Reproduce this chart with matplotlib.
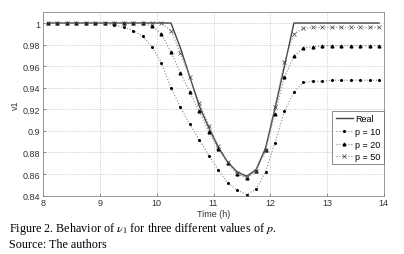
import numpy as np
import matplotlib
matplotlib.use("Agg")
import matplotlib.pyplot as plt
from matplotlib.ticker import FormatStrFormatter

# sample times: every 10 min, 8:05 -> 13:55
TIME_H = np.arange(8 + 5 / 60, 14, 1 / 6)

REAL = [1.0] * 14 + [0.977, 0.950, 0.923, 0.903, 0.885, 0.871, 0.862, 0.858,
                     0.864, 0.884, 0.921, 0.960] + [1.0] * 10
P10 = [1.0] * 7 + [0.998, 0.996, 0.993, 0.988, 0.978, 0.963, 0.940, 0.922,
                   0.906, 0.892, 0.877, 0.864, 0.852, 0.845, 0.841, 0.846,
                   0.862, 0.889, 0.918, 0.936, 0.945, 0.946, 0.946, 0.947,
                   0.947, 0.947, 0.947, 0.947, 0.947]
P20 = [1.0] * 11 + [0.997, 0.990, 0.973, 0.954, 0.936, 0.918, 0.899, 0.883,
                    0.870, 0.860, 0.856, 0.863, 0.882, 0.916, 0.950, 0.969,
                    0.977, 0.978] + [0.979] * 7
P50 = [1.0] * 13 + [0.993, 0.972, 0.950, 0.926, 0.905, 0.886, 0.871, 0.861,
                    0.857, 0.863, 0.882, 0.922, 0.964, 0.990, 0.995] + [0.996] * 8

X_TICKS = [8, 9, 10, 11, 12, 13, 14]
Y_TICKS = [0.84, 0.86, 0.88, 0.9, 0.92, 0.94, 0.96, 0.98, 1.0]

plt.rcParams["font.family"] = ["Liberation Sans", "DejaVu Sans"]
plt.rcParams["mathtext.fontset"] = "stix"

fig = plt.figure(figsize=(4.04, 2.55), dpi=100)
ax = fig.add_axes([0.107, 0.229, 0.843, 0.719])

ax.plot(TIME_H, REAL, "-", color="#444444", lw=1.0, label="Real")
ax.plot(TIME_H, P10, ":", color="#888888", lw=0.8, marker=".", ms=2.4,
        mfc="black", mec="black", label="p = 10")
ax.plot(TIME_H, P20, ":", color="#888888", lw=0.8, marker="^", ms=2.0,
        mfc="black", mec="black", label="p = 20")
ax.plot(TIME_H, P50, ":", color="#888888", lw=0.8, marker="x", ms=2.2,
        mew=0.5, mfc="black", mec="#444444", label="p = 50")

ax.set_xlim(8, 14)
ax.set_ylim(0.84, 1.01)
ax.set_xticks(X_TICKS)
ax.set_yticks(Y_TICKS)
ax.yaxis.set_major_formatter(FormatStrFormatter("%g"))
ax.grid(True, ls=":", color="#bbbbbb", lw=0.6)
ax.tick_params(direction="in", labelsize=6.5, length=2.5, width=0.5,
               colors="#666666", labelcolor="#333333", pad=2)
for s in ax.spines.values():
    s.set_color("#888888")
    s.set_linewidth(0.6)

ax.set_xlabel("Time (h)", fontsize=6.5, color="#333333", labelpad=1)
ax.set_ylabel("v1", fontsize=6.5, color="#333333", labelpad=2)

leg = ax.legend(loc="lower right", bbox_to_anchor=(1.0, 0.17), fontsize=6.5,
                frameon=True, fancybox=False, handlelength=1.9,
                borderpad=0.35, labelspacing=0.4, handletextpad=0.3,
                borderaxespad=0.0)
leg.get_frame().set_edgecolor("#555555")
leg.get_frame().set_linewidth(0.6)

fig.text(0.022, 0.09,
         r"Figure 2. Behavior of $\nu_1$ for three different values of $p$.",
         fontsize=8.7, family=["Liberation Serif"], color="black")
fig.text(0.022, 0.027, "Source: The authors", fontsize=8.7,
         family=["Liberation Serif"], color="black")

fig.savefig("out.png", dpi=100)
